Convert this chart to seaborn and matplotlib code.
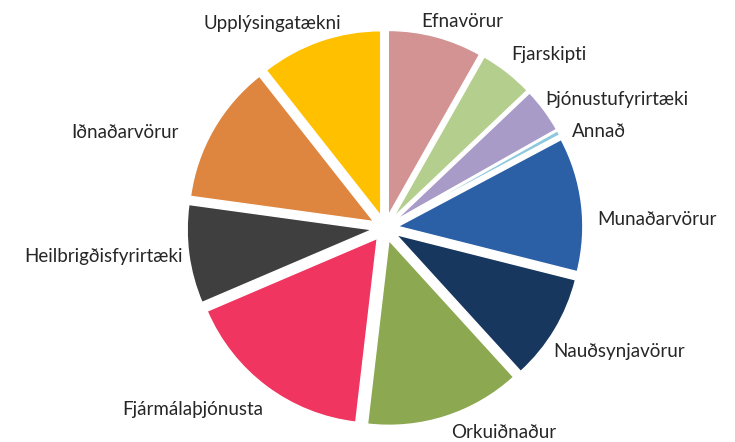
import matplotlib.pyplot as plt
import seaborn as sns

sns.set_theme(style="white")
plt.rcParams["font.family"] = ["Lato", "DejaVu Sans"]

# geirar, réttsælis frá kl. 12
greinar = ["Efnavörur", "Fjarskipti", "Þjónustufyrirtæki", "Annað", "Munaðarvörur",
           "Nauðsynjavörur", "Orkuiðnaður", "Fjármálaþjónusta", "Heilbrigðisfyrirtæki",
           "Iðnaðarvörur", "Upplýsingatækni"]
hlutfall = [8.2, 4.7, 3.9, 0.4, 11.7, 9.3, 13.6, 16.7, 8.6, 12.2, 10.6]
litir = ["#D39393", "#B4CE8E", "#A99BC7", "#8EC8DE", "#2B60A7",
         "#17375E", "#8CA850", "#F03660", "#3F3F3F", "#DE8640", "#FFC000"]

# hliðrun merkja í pixlum (x til hægri, y niður) svo þau liggi eins og í Excel
hlidrun = [(-19, 3), (-7, -3), (-14, 0), (-3, 8), (-3, 18),
           (-17, 12), (0, -2), (8, 8), (12, 0), (-19, 12), (27, 0)]

fig = plt.figure(figsize=(7.35, 4.42), dpi=100)
ax = fig.add_axes([0, 0, 1, 1])

wedges, texts = ax.pie(hlutfall, labels=greinar, colors=litir, startangle=90,
                       counterclock=False, explode=[0.07] * len(hlutfall),
                       labeldistance=1.1,
                       wedgeprops=dict(edgecolor="white", linewidth=1),
                       textprops=dict(fontsize=13.5, color="#262626"))

px = 185  # pixlar á hverja einingu radíuss
for t, (dx, dy) in zip(texts, hlidrun):
    x, y = t.get_position()
    t.set_position((x + dx / px, y - dy / px))

ax.set_aspect("equal")
ax.set_xlim(-385 / px, 350 / px)
ax.set_ylim(-214 / px, 228 / px)
ax.axis("off")

plt.savefig("out.png", dpi=100)
